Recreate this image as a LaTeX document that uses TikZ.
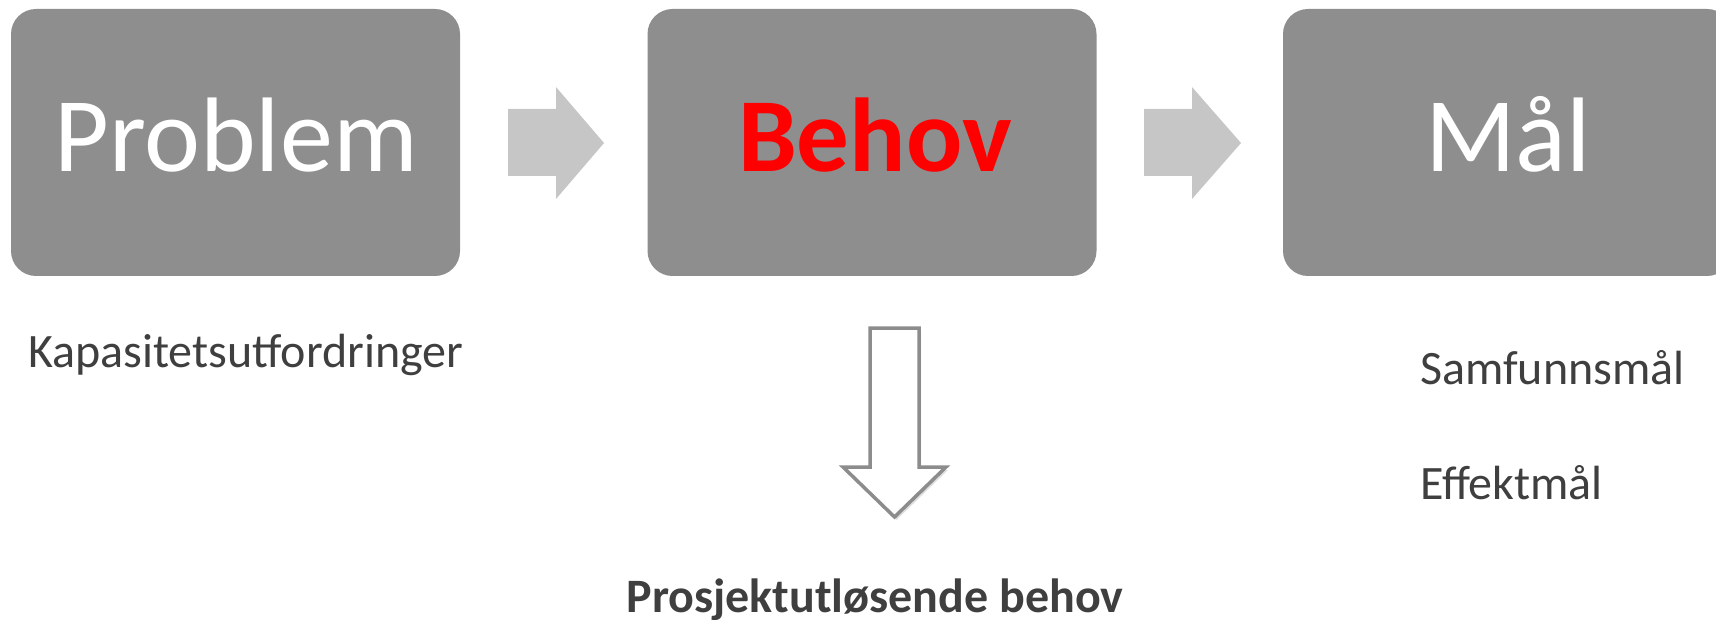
\documentclass[tikz,border=0pt]{standalone}
\usepackage{fontspec}
\setmainfont{Carlito}
\usetikzlibrary{shadows}
\definecolor{boxgray}{HTML}{8E8E8E}
\definecolor{arrowgray}{HTML}{C6C6C6}
\definecolor{outlinegray}{HTML}{8C8C8C}
\definecolor{txtgray}{HTML}{3F3F3F}
\tikzset{
  stagebox/.style={fill=boxgray, draw=none, rounded corners=25pt, minimum width=449pt, minimum height=267pt, inner sep=0pt},
  bigtext/.style={anchor=base, font=\fontsize{106}{114}\selectfont, text=white, inner sep=0pt},
  smalltext/.style={anchor=base west, font=\fontsize{48}{56}\selectfont, text=txtgray, inner sep=0pt},
  flowarrow/.style={fill=arrowgray, draw=none},
  downarrow/.style={fill=white, draw=outlinegray, line width=3.5pt, line join=miter,
    drop shadow={opacity=0.25, shadow xshift=2pt, shadow yshift=-3pt}}
}
\begin{document}
\begin{tikzpicture}[x=1pt, y=-1pt]
\useasboundingbox (0,0) rectangle (1716,620);
\clip (0,0) rectangle (1716,620);
% boxes
\node[stagebox] (problem) at (235.5,142.5) {};
\node[stagebox] (behov) at (872,142.5) {};
\node[stagebox] (maal) at (1507.5,142.5) {};
% box texts
\node[bigtext] (problemtxt) at (236,172) {Problem};
\node[bigtext, text=red, font=\fontsize{105}{114}\selectfont\bfseries] (behovtxt) at (875,172) {Behov};
\node[bigtext] (maaltxt) at (1508,172) {Mål};
% flow arrows
\fill[flowarrow] (508,109) -- (556,109) -- (556,87) -- (604,143) -- (556,199) -- (556,176) -- (508,176) -- cycle;
\fill[flowarrow] (1144,109) -- (1192,109) -- (1192,87) -- (1241,143) -- (1192,199) -- (1192,176) -- (1144,176) -- cycle;
% down arrow
\path[downarrow] (870,328) -- (919,328) -- (919,467) -- (946,467) -- (894.5,517) -- (843,467) -- (870,467) -- cycle;
% side texts
\node[smalltext] (kap) at (28,367) {Kapasitetsutfordringer};
\node[smalltext] (samf) at (1420,384) {Samfunnsmål};
\node[smalltext] (eff) at (1420,499) {Effektmål};
\node[anchor=base, font=\fontsize{48}{56}\selectfont\bfseries, text=txtgray, inner sep=0pt] (pub) at (875,612) {Prosjektutløsende behov};
\end{tikzpicture}
\end{document}
